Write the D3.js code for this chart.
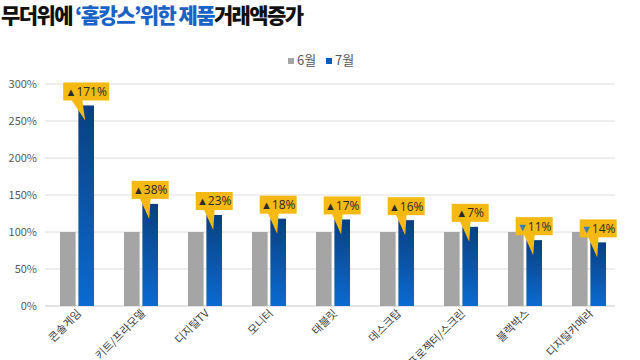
<!DOCTYPE html>
<html><head><meta charset="utf-8">
<script src="https://cdn.jsdelivr.net/npm/d3@7"></script>
<style>
body{margin:0;background:#fff;}
svg{display:block;font-family:"Noto Sans CJK KR","Noto Sans",sans-serif;}
</style></head>
<body><svg id="c" width="640" height="360"></svg>
<script>
const categories = ["콘솔게임","키트/프라모델","디지털TV","모니터","태블릿","데스크탑","프로젝터/스크린","블랙박스","디지털카메라"];
const series = ["6월","7월"];
const june = [100,100,100,100,100,100,100,100,100];
const july = [271,138,123,118,117,116,107,89,86];
const changes = [171,38,23,18,17,16,7,-11,-14];
const yTicks = [0,50,100,150,200,250,300];

(function(){
const svg = d3.select("#c");
const plotL = 45, plotR = 621, plotT = 84, plotB = 306;

// title
const title = svg.append("text").attr("x",1).attr("y",23)
  .attr("font-size",21).attr("font-weight",900).attr("fill","#111")
  .attr("letter-spacing",-1.6);
title.append("tspan").text("무더위에 ");
title.append("tspan").attr("fill","#1b62c6").text("‘홈캉스’위한 제품");
title.append("tspan").text("거래액증가");

// gradient
const defs = svg.append("defs");
const g1 = defs.append("linearGradient").attr("id","blueGrad").attr("x1",0).attr("y1",0).attr("x2",0).attr("y2",1);
g1.append("stop").attr("offset","0%").attr("stop-color","#0b3f80");
g1.append("stop").attr("offset","100%").attr("stop-color","#0a6bd2");

const colors = {"6월":"#a5a5a5","7월":"url(#blueGrad)"};

const x0 = d3.scaleBand().domain(categories).range([plotL,plotR]).padding(0);
const x1 = d3.scaleBand().domain(series).range([15,49]).paddingInner(0.15);
const y = d3.scaleLinear().domain([0,300]).range([plotB,plotT]);

// gridlines
svg.append("g").selectAll("line").data(yTicks).join("line")
  .attr("x1",plotL).attr("x2",615).attr("y1",d=>y(d)).attr("y2",d=>y(d))
  .attr("stroke",d=>d===0?"#c8c8c8":"#dedede").attr("stroke-width",1);

// y axis
const yAxis = svg.append("g").attr("transform",`translate(${plotL-8},0)`)
  .call(d3.axisLeft(y).tickValues(yTicks).tickFormat(d=>d+"%").tickSize(0).tickPadding(0));
yAxis.select(".domain").remove();
yAxis.selectAll("text").attr("font-size",11).attr("fill","#595959").attr("font-family","'Noto Sans CJK KR',sans-serif");

// bars
const data = categories.map((c,i)=>({cat:c, vals:[{s:"6월",v:june[i]},{s:"7월",v:july[i]}], ch:changes[i], hi:july[i]}));
const groups = svg.append("g").selectAll("g").data(data).join("g")
  .attr("transform",d=>`translate(${x0(d.cat)},0)`);
groups.selectAll("rect").data(d=>d.vals).join("rect")
  .attr("x",d=>x1(d.s)).attr("width",x1.bandwidth())
  .attr("y",d=>y(d.v)).attr("height",d=>y(0)-y(d.v))
  .attr("fill",d=>colors[d.s]);

// x labels
svg.append("g").selectAll("text").data(categories).join("text")
  .attr("transform",d=>`translate(${x0(d)+x0.bandwidth()/2+5},314) rotate(-45)`)
  .attr("text-anchor","end").attr("font-size",11).attr("fill","#404040").text(d=>d);

// callouts
data.forEach(d=>{
  const cx = x0(d.cat) + x1("7월") + x1.bandwidth()/2;
  const by = y(d.hi);
  const txt = Math.abs(d.ch)+"%";
  const w = txt.length>=4 ? 46 : 37;
  const h = 18;
  const bx = cx - w/2, bTop = by - 5 - h;
  const g = svg.append("g");
  g.append("path")
    .attr("d",`M${bx+8},${bTop+h-1} L${cx-1},${by+15} L${bx+19},${bTop+h-1} Z`)
    .attr("fill","#f5b914");
  g.append("rect").attr("x",bx).attr("y",bTop).attr("width",w).attr("height",h).attr("fill","#f5b914");
  const t = g.append("text").attr("x",bx+w/2).attr("y",bTop+13.5).attr("text-anchor","middle")
    .attr("font-size",12).attr("fill","#2a2a2a").attr("font-family","'Open Sans','Noto Sans',sans-serif");
  t.append("tspan").attr("font-size",11).attr("fill",d.ch>=0?"#2a2a2a":"#3a7fae").text(d.ch>=0?"▲":"▼");
  t.append("tspan").text(txt);
});

// legend
const leg = svg.append("g").attr("transform","translate(288,55)");
series.forEach((s,i)=>{
  const gx = i*38;
  leg.append("rect").attr("x",gx).attr("y",3).attr("width",6).attr("height",6).attr("fill",i===0?"#a5a5a5":"#0a5bbf");
  leg.append("text").attr("x",gx+9).attr("y",10).attr("font-size",13).attr("fill","#595959").text(s);
});
})();
</script>
</body></html>
